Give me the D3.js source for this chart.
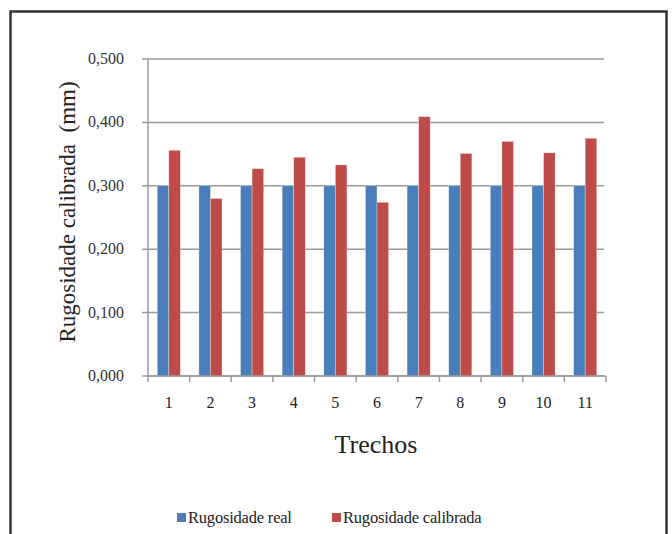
<!DOCTYPE html>
<html><head><meta charset="utf-8">
<script src="https://cdn.jsdelivr.net/npm/d3@7"></script>
<style>html,body{margin:0;padding:0;background:#fff;}svg{display:block;}
text{font-family:"Liberation Serif","DejaVu Serif","Noto Serif",serif;}</style>
</head><body>
<svg id="c" width="672" height="534"></svg>
<script>
const categories = ["1","2","3","4","5","6","7","8","9","10","11"];
const seriesNames = ["Rugosidade real","Rugosidade calibrada"];
const real = [0.300,0.300,0.300,0.300,0.300,0.300,0.300,0.300,0.300,0.300,0.300];
const calibrada = [0.356,0.280,0.327,0.345,0.333,0.274,0.409,0.351,0.370,0.352,0.375];
const yTicks = [0,0.1,0.2,0.3,0.4,0.5];
const yTickLabels = ["0,000","0,100","0,200","0,300","0,400","0,500"];
const colors = ["#4a7ebb","#be4b48"];

const svg = d3.select("#c");
// frame
svg.append("rect").attr("x",10.5).attr("y",11.5).attr("width",656).attr("height",540)
  .attr("fill","none").attr("stroke","#333").attr("stroke-width",2.5);

const m = {left:148, right:606, top:59, bottom:376};
const x = d3.scaleBand().domain(categories).range([m.left,m.right]).paddingInner(0).paddingOuter(0);
const y = d3.scaleLinear().domain([0,0.5]).range([m.bottom,m.top]);
const inner = d3.scaleBand().domain(seriesNames).range([0,x.bandwidth()]).paddingInner(0).paddingOuter(0.8);

// gridlines
svg.append("g").selectAll("line").data(yTicks).join("line")
  .attr("x1",m.left-6).attr("x2",m.right-2)
  .attr("y1",d=>y(d)).attr("y2",d=>y(d))
  .attr("stroke","#9a9a9a").attr("stroke-width",1.5);

// y tick labels
svg.append("g").selectAll("text").data(yTicks).join("text")
  .attr("x",m.left-24).attr("y",d=>y(d)+5)
  .attr("text-anchor","end").attr("font-size",16).attr("fill","#333")
  .text((d,i)=>yTickLabels[i]);

// bars
const data = categories.map((c,i)=>({c, vals:[real[i],calibrada[i]]}));
const g = svg.append("g");
data.forEach(d=>{
  d.vals.forEach((v,j)=>{
    g.append("rect")
      .attr("x",x(d.c)+inner(seriesNames[j]))
      .attr("y",y(v))
      .attr("width",inner.bandwidth())
      .attr("height",y(0)-y(v))
      .attr("fill",colors[j])
      .attr("stroke","rgba(255,255,255,0.5)").attr("stroke-width",0.6);
  });
});

// y axis line
svg.append("line").attr("x1",m.left).attr("x2",m.left).attr("y1",m.top).attr("y2",m.bottom)
  .attr("stroke","#9a9a9a").attr("stroke-width",1.5);
// x axis
const xAxis = svg.append("g");
xAxis.append("line").attr("x1",m.left).attr("x2",m.right).attr("y1",m.bottom).attr("y2",m.bottom)
  .attr("stroke","#9a9a9a").attr("stroke-width",1.5);
const bounds = categories.map(c=>x(c)).concat([x(categories[categories.length-1])+x.bandwidth()]);
xAxis.selectAll("line.t").data(bounds).join("line").attr("class","t")
  .attr("x1",d=>d).attr("x2",d=>d).attr("y1",m.bottom).attr("y2",m.bottom+6)
  .attr("stroke","#9a9a9a").attr("stroke-width",1.5);
xAxis.selectAll("text").data(categories).join("text")
  .attr("x",d=>x(d)+x.bandwidth()/2).attr("y",m.bottom+32)
  .attr("text-anchor","middle").attr("font-size",16).attr("fill","#222")
  .text(d=>d);

// axis titles
svg.append("text").attr("x",376).attr("y",453).attr("text-anchor","middle")
  .attr("font-size",26).attr("fill","#222").text("Trechos");
svg.append("text").attr("transform","translate(75,212) rotate(-90)").attr("text-anchor","middle")
  .attr("font-size",23).attr("fill","#222")
  .style("white-space","pre").text("Rugosidade calibrada  (mm)");

// legend
const legX = [177,332];
seriesNames.forEach((s,i)=>{
  svg.append("rect").attr("x",legX[i]).attr("y",513).attr("width",9).attr("height",9).attr("fill",colors[i]);
  svg.append("text").attr("x",legX[i]+11).attr("y",523).attr("font-size",16.5)
    .attr("fill","#222").attr("letter-spacing",-0.2).text(s);
});
</script>
</body></html>
